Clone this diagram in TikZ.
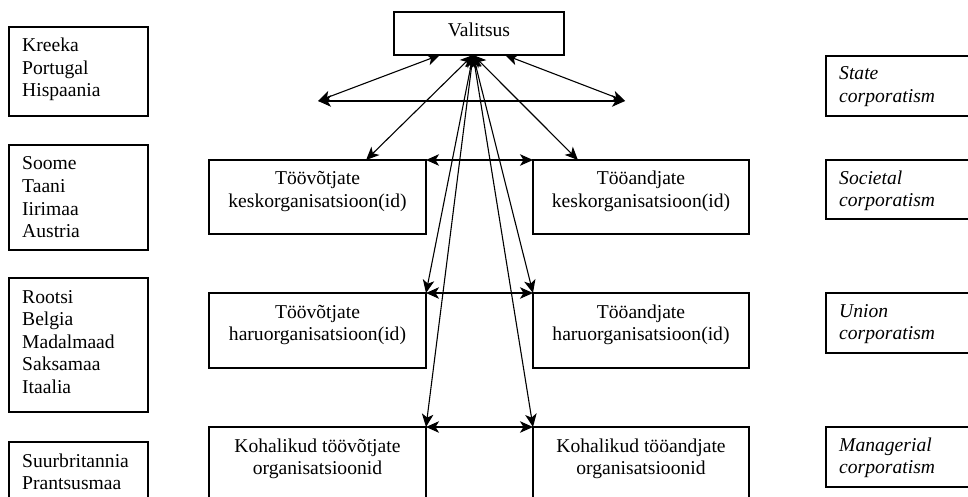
\documentclass[tikz,border=0pt]{standalone}
\usepackage{fontspec}
\setmainfont{Liberation Serif}
\usetikzlibrary{arrows.meta,calc}
\newcommand\mylines[1]{\begin{tabular}[t]{@{}l@{}}#1\end{tabular}}
\newcommand\mycenter[1]{\begin{tabular}[t]{@{}c@{}}#1\end{tabular}}
\begin{document}
\begin{tikzpicture}[x=1pt,y=-1pt,
  box/.style={draw, line width=1.1pt, rectangle, inner sep=0pt, outer sep=0pt, anchor=north west},
  txt/.style={inner sep=0pt, font=\fontsize{19.6}{22.5}\selectfont},
  itxt/.style={txt, font=\fontsize{19.6}{22.5}\selectfont\itshape},
  arr/.style={{Stealth[length=13pt,width=11.5pt,inset=3.5pt]}-{Stealth[length=13pt,width=11.5pt,inset=3.5pt]}, line width=1.1pt}]
\clip (0,0) rectangle (968,497);
% government
\node[box,minimum width=170pt,minimum height=43pt] (val) at (394,12) {};
\node[txt,anchor=base] (valt) at (479,37) {Valitsus};
% country boxes
\node[box,minimum width=139pt,minimum height=89pt] (c1) at (9,27) {};
\node[txt,anchor=base west] (c1t) at (22,52) {\mylines{Kreeka\\Portugal\\Hispaania}};
\node[box,minimum width=139pt,minimum height=105pt] (c2) at (9,145) {};
\node[txt,anchor=base west] (c2t) at (22,170) {\mylines{Soome\\Taani\\Iirimaa\\Austria}};
\node[box,minimum width=139pt,minimum height=134pt] (c3) at (9,278) {};
\node[txt,anchor=base west] (c3t) at (22,303) {\mylines{Rootsi\\Belgia\\Madalmaad\\Saksamaa\\Itaalia}};
\node[box,minimum width=139pt,minimum height=80pt] (c4) at (9,442) {};
\node[txt,anchor=base west] (c4t) at (22,467) {\mylines{Suurbritannia\\Prantsusmaa}};
% middle boxes
\node[box,minimum width=217pt,minimum height=74pt] (wk) at (209,160) {};
\node[txt,anchor=base] (wkt) at (317.5,185) {\mycenter{Töövõtjate\\keskorganisatsioon(id)}};
\node[box,minimum width=216pt,minimum height=74pt] (ek) at (533,160) {};
\node[txt,anchor=base] (ekt) at (641,185) {\mycenter{Tööandjate\\keskorganisatsioon(id)}};
\node[box,minimum width=217pt,minimum height=75pt] (wh) at (209,293) {};
\node[txt,anchor=base] (wht) at (317.5,318) {\mycenter{Töövõtjate\\haruorganisatsioon(id)}};
\node[box,minimum width=216pt,minimum height=75pt] (eh) at (533,293) {};
\node[txt,anchor=base] (eht) at (641,318) {\mycenter{Tööandjate\\haruorganisatsioon(id)}};
\node[box,minimum width=217pt,minimum height=85pt] (wl) at (209,427) {};
\node[txt,anchor=base] (wlt) at (317.5,452) {\mycenter{Kohalikud töövõtjate\\organisatsioonid}};
\node[box,minimum width=216pt,minimum height=85pt] (el) at (533,427) {};
\node[txt,anchor=base] (elt) at (641,452) {\mycenter{Kohalikud tööandjate\\organisatsioonid}};
% right boxes
\node[box,minimum width=170pt,minimum height=60pt] (r1) at (826,56) {};
\node[itxt,anchor=base west] (r1t) at (839,80) {\mylines{State\\corporatism}};
\node[box,minimum width=170pt,minimum height=59pt] (r2) at (826,160) {};
\node[itxt,anchor=base west] (r2t) at (839,184) {\mylines{Societal\\corporatism}};
\node[box,minimum width=170pt,minimum height=60pt] (r3) at (826,293) {};
\node[itxt,anchor=base west] (r3t) at (839,317) {\mylines{Union\\corporatism}};
\node[box,minimum width=170pt,minimum height=60pt] (r4) at (826,427) {};
\node[itxt,anchor=base west] (r4t) at (839,451) {\mylines{Managerial\\corporatism}};
% connectors
\coordinate (V) at ($(val.south west)!0.465!(val.south east)$);
\coordinate (hl) at (318,101);
\coordinate (hr) at (625,101);
\draw[arr] ($(val.south west)!0.27!(val.south east)$) -- (hl);
\draw[arr] ($(val.south west)!0.653!(val.south east)$) -- (hr);
\draw[arr] (hl) -- (hr);
\draw[arr] (V) -- ($(wk.north west)!0.724!(wk.north east)$);
\draw[arr] (V) -- ($(ek.north west)!0.208!(ek.north east)$);
\draw[arr] (V) -- (wh.north east);
\draw[arr] (V) -- (eh.north west);
\draw[arr] (V) -- (wl.north east);
\draw[arr] (V) -- (el.north west);
\draw[arr] (wk.north east) -- (ek.north west);
\draw[arr] (wh.north east) -- (eh.north west);
\draw[arr] (wl.north east) -- (el.north west);
\end{tikzpicture}
\end{document}
